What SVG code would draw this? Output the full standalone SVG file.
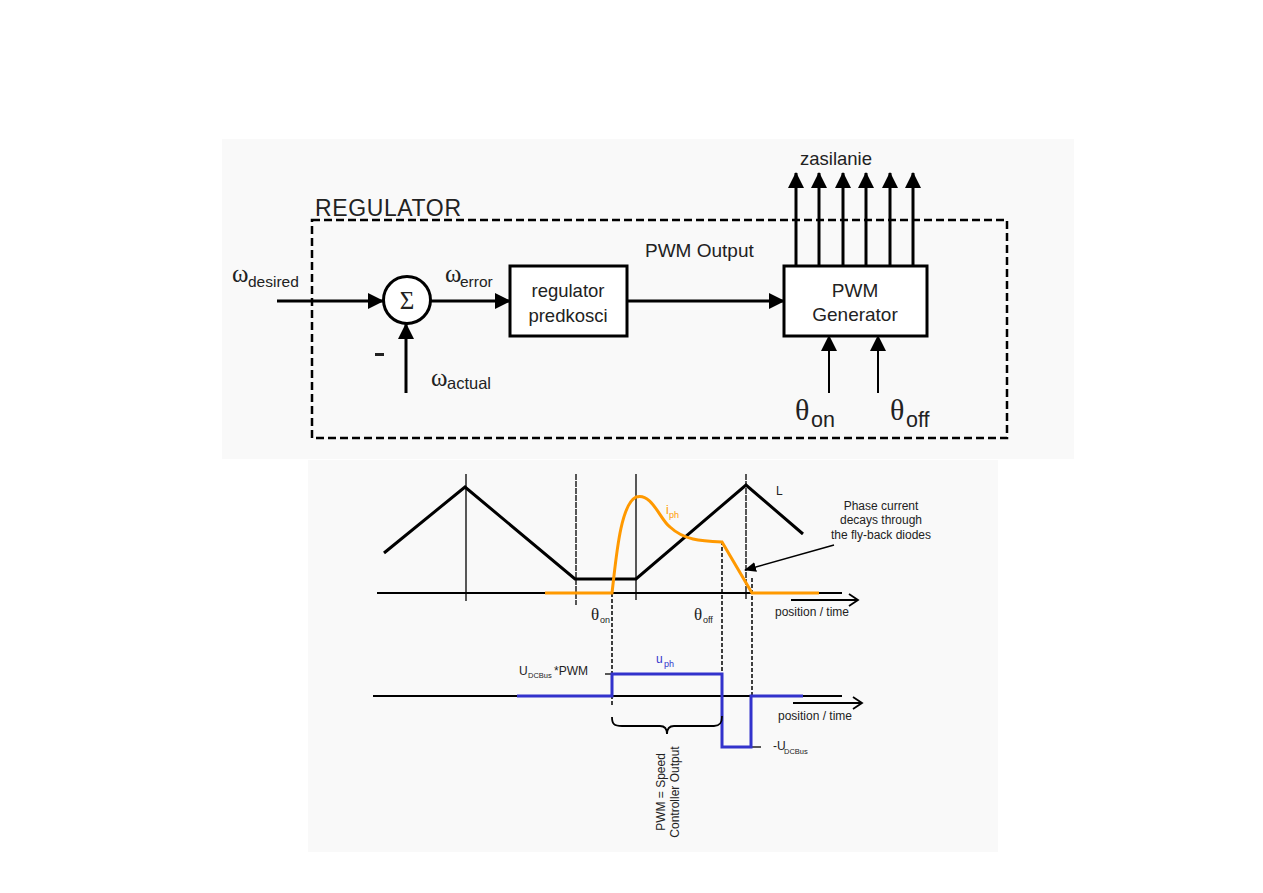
<svg xmlns="http://www.w3.org/2000/svg" width="1263" height="893" viewBox="0 0 1263 893">
<style>
.t{font-family:"Liberation Sans",Arial,sans-serif;fill:#222}
.s{font-family:"Liberation Serif","DejaVu Serif",serif;fill:#222}
.ln{stroke:#000;stroke-width:3;fill:none}
.box{stroke:#000;stroke-width:3;fill:#fff}
.thin{stroke:#000;stroke-width:1.3;fill:none}
.dash{stroke:#000;stroke-width:1.5;fill:none;stroke-dasharray:4,2}
</style>
<defs>
<marker id="ah" markerUnits="userSpaceOnUse" markerWidth="16" markerHeight="16" refX="15" refY="8" orient="auto">
<path d="M0,0 L16,8 L0,16 z" fill="#000"/>
</marker>
<marker id="ahs" markerUnits="userSpaceOnUse" markerWidth="12" markerHeight="12" refX="11" refY="6" orient="auto">
<path d="M0,1 L12,6 L0,11 z" fill="#000"/>
</marker>
</defs>
<rect width="1263" height="893" fill="#fff"/>
<rect x="222" y="139" width="852" height="320" fill="#f9f9f9"/>
<rect x="308" y="460" width="690" height="392" fill="#f9f9f9"/>

<g id="regulator">
<rect x="312" y="220" width="695" height="218" fill="none" stroke="#000" stroke-width="2.5" stroke-dasharray="8,4"/>
<text class="t" x="315" y="216" font-size="23" textLength="146" fill="#333">REGULATOR</text>
</g>

<g id="sum">
<circle cx="407" cy="300" r="23.5" fill="#fff" stroke="#000" stroke-width="3"/>
<text class="s" x="407" y="309" font-size="25" text-anchor="middle">Σ</text>
</g>

<g id="regulator-predkosci">
<rect class="box" x="510" y="266" width="117" height="70"/>
<text class="t" x="568" y="297" font-size="18.5" text-anchor="middle">regulator</text>
<text class="t" x="568" y="322" font-size="18.5" text-anchor="middle">predkosci</text>
</g>

<g id="pwm-generator">
<rect class="box" x="784" y="266" width="143" height="70"/>
<text class="t" x="855" y="297" font-size="19" text-anchor="middle">PWM</text>
<text class="t" x="855" y="321" font-size="19" text-anchor="middle">Generator</text>
</g>

<g id="labels-top">
<text class="s" x="232" y="282" font-size="25">ω</text>
<text class="t" x="248" y="287" font-size="15.5">desired</text>
<text class="s" x="445" y="282" font-size="25">ω</text>
<text class="t" x="460" y="287" font-size="15.5">error</text>
<text class="s" x="431" y="386" font-size="25">ω</text>
<text class="t" x="447" y="389" font-size="16.5">actual</text>
<rect x="375" y="353" width="9" height="3" fill="#222"/>
<text class="t" x="645" y="257" font-size="19">PWM Output</text>
<text class="t" x="836" y="165" font-size="18.5" text-anchor="middle">zasilanie</text>
<text class="s" x="795" y="420" font-size="30">θ</text>
<text class="t" x="811" y="427" font-size="21.5">on</text>
<text class="s" x="890" y="420" font-size="30">θ</text>
<text class="t" x="906" y="427" font-size="21.5">off</text>
</g>

<g id="connectors">
<line class="ln" x1="277" y1="301" x2="383" y2="301" marker-end="url(#ah)"/>
<line class="ln" x1="406" y1="393" x2="406" y2="324" marker-end="url(#ah)"/>
<line class="ln" x1="431" y1="301" x2="510" y2="301" marker-end="url(#ah)"/>
<line class="ln" x1="627" y1="301" x2="784" y2="301" marker-end="url(#ah)"/>
<line class="ln" x1="796" y1="266" x2="796" y2="173" marker-end="url(#ah)"/>
<line class="ln" x1="819" y1="266" x2="819" y2="173" marker-end="url(#ah)"/>
<line class="ln" x1="843" y1="266" x2="843" y2="173" marker-end="url(#ah)"/>
<line class="ln" x1="866" y1="266" x2="866" y2="173" marker-end="url(#ah)"/>
<line class="ln" x1="890" y1="266" x2="890" y2="173" marker-end="url(#ah)"/>
<line class="ln" x1="913" y1="266" x2="913" y2="173" marker-end="url(#ah)"/>
<line x1="829" y1="393" x2="829" y2="336" stroke="#000" stroke-width="2" marker-end="url(#ah)"/>
<line x1="878" y1="393" x2="878" y2="336" stroke="#000" stroke-width="2" marker-end="url(#ah)"/>
</g>

<g id="waveform-current">
<line class="thin" x1="466" y1="474" x2="466" y2="601"/>
<line x1="576" y1="474" x2="576" y2="605" stroke="#000" stroke-width="1.3" stroke-dasharray="6,1"/>
<line class="thin" x1="636" y1="474" x2="636" y2="600"/>
<line x1="746" y1="474" x2="746" y2="600" stroke="#000" stroke-width="1.3" stroke-dasharray="6,1"/>
<line x1="377" y1="593" x2="842" y2="593" stroke="#000" stroke-width="1.8"/>
<polyline class="ln" points="384,553 465,487 575,579 636,579 746,485 803,534"/>
<line class="dash" x1="612" y1="593" x2="612" y2="706"/>
<line class="dash" x1="722" y1="541" x2="722" y2="673"/>
<line class="dash" x1="752" y1="578" x2="752" y2="696"/>
<path d="M545,593 L612,593 C616,560 620,505 636,497 C652,492 660,520 670,527 C684,540 700,541 722,542 L752,593 L819,593" fill="none" stroke="#ff9900" stroke-width="3"/>
<text class="t" x="666" y="514" font-size="12" style="fill:#ff9900">i</text>
<text class="t" x="669" y="518" font-size="9" style="fill:#ff9900">ph</text>
<text class="t" x="776" y="495" font-size="12">L</text>
<text class="t" x="881" y="510" font-size="12" text-anchor="middle">Phase current</text>
<text class="t" x="881" y="524" font-size="12" text-anchor="middle">decays through</text>
<text class="t" x="881" y="539" font-size="12" text-anchor="middle">the fly-back diodes</text>
<line x1="834" y1="545" x2="745" y2="570" stroke="#000" stroke-width="1.5" marker-end="url(#ahs)"/>
<path d="M791,600 L858,600 M849,594 L858,600 L849,606" fill="none" stroke="#000" stroke-width="1.8"/>
<text class="t" x="775" y="616" font-size="12">position / time</text>
<text class="s" x="591" y="620" font-size="17">θ</text>
<text class="t" x="600" y="623" font-size="9">on</text>
<text class="s" x="694" y="620" font-size="17">θ</text>
<text class="t" x="703" y="623" font-size="9">off</text>
</g>

<g id="waveform-voltage">
<line x1="373" y1="696" x2="842" y2="696" stroke="#000" stroke-width="1.8"/>
<line class="thin" x1="605" y1="674" x2="622" y2="674"/>
<line class="thin" x1="742" y1="747" x2="761" y2="747"/>
<polyline points="517,696 612,696 612,674 722,674 722,747 751,747 751,696 803,696" fill="none" stroke="#3333cc" stroke-width="3"/>
<path d="M793,703 L862,703 M853,697 L862,703 L853,709" fill="none" stroke="#000" stroke-width="1.8"/>
<text class="t" x="778" y="720" font-size="12">position / time</text>
<text class="t" x="656" y="663" font-size="12" style="fill:#3333cc">u</text>
<text class="t" x="664" y="667" font-size="9" style="fill:#3333cc">ph</text>
<text class="t" x="519" y="675" font-size="12">U</text>
<text class="t" x="528" y="678" font-size="7.5">DCBus</text>
<text class="t" x="554" y="675" font-size="12">*PWM</text>
<text class="t" x="773" y="750" font-size="12">-U</text>
<text class="t" x="784" y="754" font-size="7.5">DCBus</text>
<path d="M612,717 C612,724 614,726 622,726 L660,726 C665,726 667,729 667,734 C667,729 669,726 674,726 L714,726 C720,726 722,723 722,716" fill="none" stroke="#000" stroke-width="1.8"/>
<text class="t" font-size="12" text-anchor="middle" transform="translate(665,792) rotate(-90)">PWM = Speed</text>
<text class="t" font-size="12" text-anchor="middle" transform="translate(679,792) rotate(-90)">Controller Output</text>
</g>
</svg>
